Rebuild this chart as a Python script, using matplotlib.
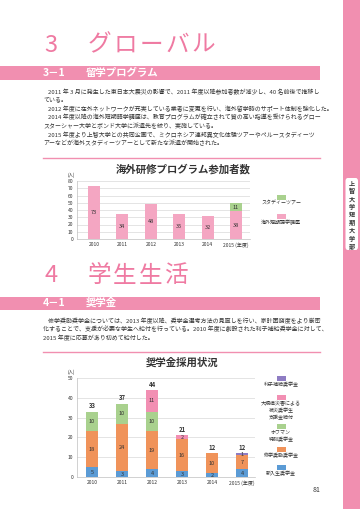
import matplotlib.pyplot as plt
from matplotlib.patches import Rectangle, FancyBboxPatch
import numpy as np

plt.rcParams['font.family'] = ['Noto Sans CJK JP', 'DejaVu Sans']

# data
years = ["2010", "2011", "2012", "2013", "2014", "2015"]
abroad_lang = [73, 34, 48, 35, 32, 38]   # 海外短期語学講座
abroad_tour = [0, 0, 0, 0, 0, 11]        # スタディーツアー

sch_new = [5, 3, 4, 3, 2, 4]             # 新入生奨学金
sch_shugaku = [18, 24, 19, 16, 10, 7]    # 修学奨励奨学金
sch_hoffman = [10, 10, 10, 0, 0, 0]      # ホフマン特別奨学金
sch_disaster = [0, 0, 11, 2, 0, 0]       # 大規模災害による被災奨学生支援金給付
sch_interest = [0, 0, 0, 0, 0, 1]        # 利子補給奨学金

PINK = "#f18fb0"
TITLE_PINK = "#ef7aa2"
TEXT = "#333333"

W, H = 360, 509
fig = plt.figure(figsize=(3.6, 5.09), dpi=100)


def fx(x):
    return x / W


def fy(y):
    return 1 - y / H


def txt(x, y, s, **kw):
    kw.setdefault("va", "center")
    kw.setdefault("color", TEXT)
    fig.text(fx(x), fy(y), s, **kw)


def rect(x0, y0, x1, y1, color):
    fig.add_artist(Rectangle((fx(x0), fy(y1)), (x1 - x0) / W, (y1 - y0) / H,
                             transform=fig.transFigure, facecolor=color,
                             edgecolor="none"))


# side bar
rect(343, 0, 360, 509, PINK)
fig.add_artist(FancyBboxPatch((fx(345.5), fy(250)), 12.5 / W, 72 / H,
                              boxstyle="round,pad=0,rounding_size=0.006",
                              transform=fig.transFigure, facecolor="white",
                              edgecolor="none"))
for i, ch in enumerate("上智大学短期大学部"):
    txt(352, 183 + i * 7.9, ch, ha="center", fontsize=4.4, weight="bold")


def big_title(num, chars, y):
    txt(51, y, num, ha="center", fontsize=17, color=TITLE_PINK)
    for i, ch in enumerate(chars):
        txt(99 + i * 26, y, ch, ha="center", fontsize=17, color=TITLE_PINK)


def section(num, label, y):
    rect(0, y - 6.5, 320, y + 6.5, PINK)
    txt(43, y, num, ha="left", fontsize=7.5, color="white", weight="bold")
    txt(86, y, label, ha="left", fontsize=7.5, color="white", weight="bold")


def body(lines, y0, step=8.5):
    for i, (indent, s) in enumerate(lines):
        txt(43 + indent, y0 + i * step, s, ha="left", fontsize=4.3)


def sep(y):
    fig.add_artist(plt.Line2D([fx(43), fx(320)], [fy(y), fy(y)],
                              transform=fig.transFigure, color=PINK, lw=1))


big_title("3", "グローバル", 45)
section("3－1", "留学プログラム", 73)
body([
    (5, "2011 年 3 月に発生した東日本大震災の影響で、2011 年度以降参加者数が減少し、40 名前後で推移し"),
    (0, "ている。"),
    (5, "2012 年度に在外ネットワークが充実している業者に変更を行い、海外留学時のサポート体制を強化した。"),
    (5, "2014 年度以降の海外短期語学講座は、教育プログラムが確立されて質の高い指導を受けられるグロー"),
    (0, "スターシャー大学とボンド大学に派遣先を絞り、実施している。"),
    (5, "2015 年度より上智大学との共同企画で、ミクロネシア連邦異文化体験ツアーやペルースタディーツ"),
    (0, "アーなどが海外スタディーツアーとして新たな派遣が開始された。"),
], 92)
sep(158)

big_title("4", "学生生活", 276)
section("4－1", "奨学金", 303)
body([
    (5, "修学奨励奨学金については、2013 年度以降、奨学金選考方法の見直しを行い、家計困窮度をより厳密"),
    (0, "化することで、支援が必要な学生へ給付を行っている。2010 年度に創設された利子補給奨学金に対して、"),
    (0, "2015 年度に応募があり初めて給付した。"),
], 321)
sep(352)

txt(317, 490, "81", ha="center", fontsize=5)


def setup(ax, ymax, step):
    ax.set_ylim(0, ymax)
    ax.set_yticks(range(0, ymax + 1, step))
    ax.grid(axis="y", color="#d9d9d9", lw=0.5)
    ax.set_axisbelow(True)
    for s in ["top", "right"]:
        ax.spines[s].set_visible(False)
    for s in ["left", "bottom"]:
        ax.spines[s].set_color("#bfbfbf")
        ax.spines[s].set_linewidth(0.5)
    ax.tick_params(length=0, labelsize=3.6, pad=2.5, colors=TEXT)
    ax.set_xticks(range(len(years)))
    ax.set_xticklabels(years[:-1] + [years[-1] + " (年度)"])
    ax.patch.set_alpha(0)


def legend_item(x, y, color, label):
    rect(x - 4.5, y - 2.5, x + 4.5, y + 2.5, color)
    txt(x, y + 4, label, ha="center", va="top", fontsize=3.6, linespacing=1.3)


# chart 1
txt(183, 169, "海外研修プログラム参加者数", ha="center", fontsize=7.5, weight="bold")
ax1 = fig.add_axes([fx(77), fy(239), (250 - 77) / W, (239 - 181) / H])
x = np.arange(len(years))
setup(ax1, 80, 10)
ax1.set_xlim(-0.6, 5.49)
c_lang, c_tour = "#f4a6c2", "#a9d18e"
ax1.bar(x, abroad_lang, 0.42, color=c_lang)
ax1.bar(x, abroad_tour, 0.42, bottom=abroad_lang, color=c_tour)
for i in x:
    ax1.text(i, abroad_lang[i] / 2, str(abroad_lang[i]), ha="center", va="center",
             fontsize=4, color=TEXT)
    if abroad_tour[i]:
        ax1.text(i, abroad_lang[i] + abroad_tour[i] / 2, str(abroad_tour[i]),
                 ha="center", va="center", fontsize=4, color=TEXT)
txt(71, 175, "(人)", ha="center", fontsize=3.2)
legend_item(281, 197, c_tour, "スタディーツアー")
legend_item(281, 216, c_lang, "海外短期語学講座")

# chart 2
txt(182, 363, "奨学金採用状況", ha="center", fontsize=7.5, weight="bold")
ax2 = fig.add_axes([fx(77), fy(477), (255 - 77) / W, (477 - 378) / H])
setup(ax2, 50, 10)
ax2.set_xlim(-0.5, 5.43)
series = [
    (sch_new, "#5b9bd5"),
    (sch_shugaku, "#f0935a"),
    (sch_hoffman, "#a9d18e"),
    (sch_disaster, "#f28fb3"),
    (sch_interest, "#8e7cc3"),
]
bottom = np.zeros(len(years))
for vals, col in series:
    ax2.bar(x, vals, 0.4, bottom=bottom, color=col)
    for i in x:
        if vals[i]:
            ax2.text(i, bottom[i] + vals[i] / 2, str(vals[i]), ha="center",
                     va="center", fontsize=4, color=TEXT)
    bottom += np.array(vals)
for i in x:
    ax2.text(i, bottom[i] + 1.2, str(int(bottom[i])), ha="center", va="bottom",
             fontsize=4.3, weight="bold", color=TEXT)
txt(71, 372, "(人)", ha="center", fontsize=3.2)
legend_item(281, 378, "#8e7cc3", "利子補給奨学金")
legend_item(281, 397, "#f28fb3", "大規模災害による\n被災奨学生\n支援金給付")
legend_item(281, 426, "#a9d18e", "ホフマン\n特別奨学金")
legend_item(281, 449, "#f0935a", "修学奨励奨学金")
legend_item(281, 467, "#5b9bd5", "新入生奨学金")

fig.savefig("out.png", dpi=100)
